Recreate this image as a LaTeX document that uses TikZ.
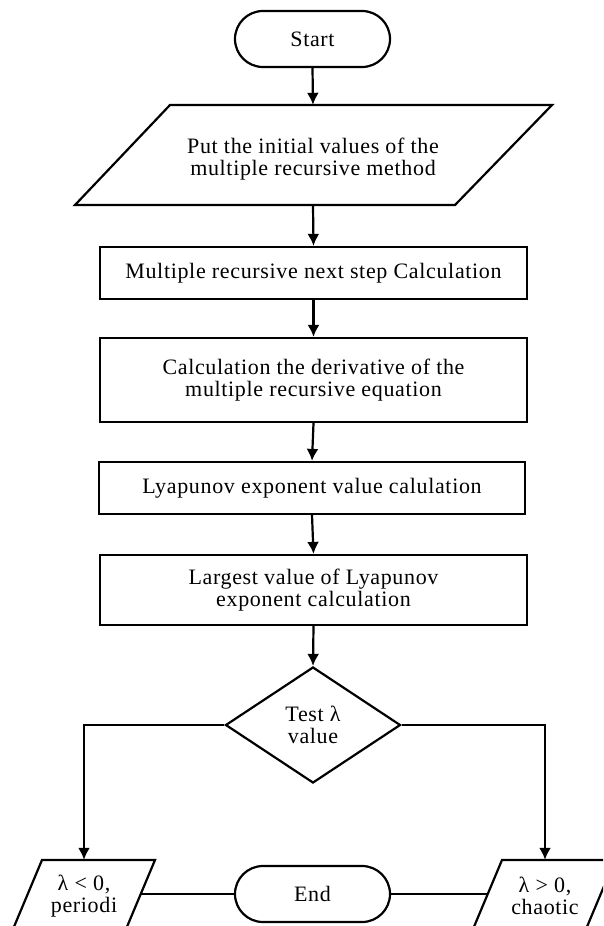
\documentclass[tikz,border=0pt]{standalone}
\usepackage{fontspec}
\setmainfont{Liberation Serif}[LetterSpace=3]
\usetikzlibrary{shapes.misc,shapes.geometric,arrows.meta}
\begin{document}
\begin{tikzpicture}[x=1pt,y=-1pt,
  every node/.style={font=\fontsize{22}{22}\selectfont, align=center, inner sep=0pt},
  ln/.style={line width=2.2pt},
  arr/.style={ln,-{Latex[length=12pt,width=12pt]}},
  term/.style={rounded rectangle, draw, ln, minimum width=155pt, minimum height=56pt},
  procbox/.style={rectangle, draw, ln, minimum width=427pt},
  txt/.style={rectangle},
  decide/.style={diamond, draw, ln, minimum width=175pt, minimum height=116pt}]
\useasboundingbox (0,0) rectangle (603,926);
\clip (0,0) rectangle (603,926);
\fill[white] (0,0) rectangle (603,926);

\node[term] (start) at (312.5,39) {Start};

\node[txt, minimum width=300pt, minimum height=100pt] (inp) at (313,155) {};
\node (inptext) at (313,159) {Put the initial values of the\\multiple recursive method};
\draw[ln, line join=miter] (170,105) -- (552,105) -- (455,205) -- (75,205) -- cycle;

\node[procbox, minimum height=52pt] (b1) at (313.5,273) {Multiple recursive next step Calculation};
\node[procbox, minimum height=84pt] (b2) at (313.5,380) {Calculation the derivative of the\\multiple recursive equation};
\node[procbox, minimum width=426pt, minimum height=52pt] (b3) at (312,488) {Lyapunov exponent value calulation};
\node[procbox, minimum height=70pt] (b4) at (313.5,590) {Largest value of Lyapunov\\exponent calculation};

\node[decide] (dia) at (313,725) {Test λ\\value};

\node[txt, minimum height=72pt, minimum width=60pt] (lp) at (84,896) {λ < 0,\\periodi};
\draw[ln] (42,860) -- (155,860) -- (124.8,932) -- (11.8,932) -- cycle;
\node[txt, minimum height=72pt, minimum width=60pt] (rp) at (545,896) {λ > 0,\\chaotic};
\draw[ln] (502,860) -- (615,860) -- (584.8,932) -- (471.8,932) -- cycle;

\node[term] (end) at (312.5,894) {End};
\coordinate (lpedge) at (140.7,894);
\coordinate (rpedge) at (487.7,894);

\draw[arr] (start.south) -- (inp.north);
\draw[arr] (inp.south) -- (b1.north);
\draw[arr] (b1.south) -- (b2.north);
\draw[arr] (b2.south) -- (b3.north);
\draw[arr] (b3.south) -- (b4.north);
\draw[arr] (b4.south) -- (dia.north);
\draw[arr] (dia.west) -| (lp.north);
\draw[arr] (dia.east) -| (rp.north);
\draw[ln] (lpedge) -- (end.west);
\draw[ln] (end.east) -- (rpedge);
\end{tikzpicture}
\end{document}
